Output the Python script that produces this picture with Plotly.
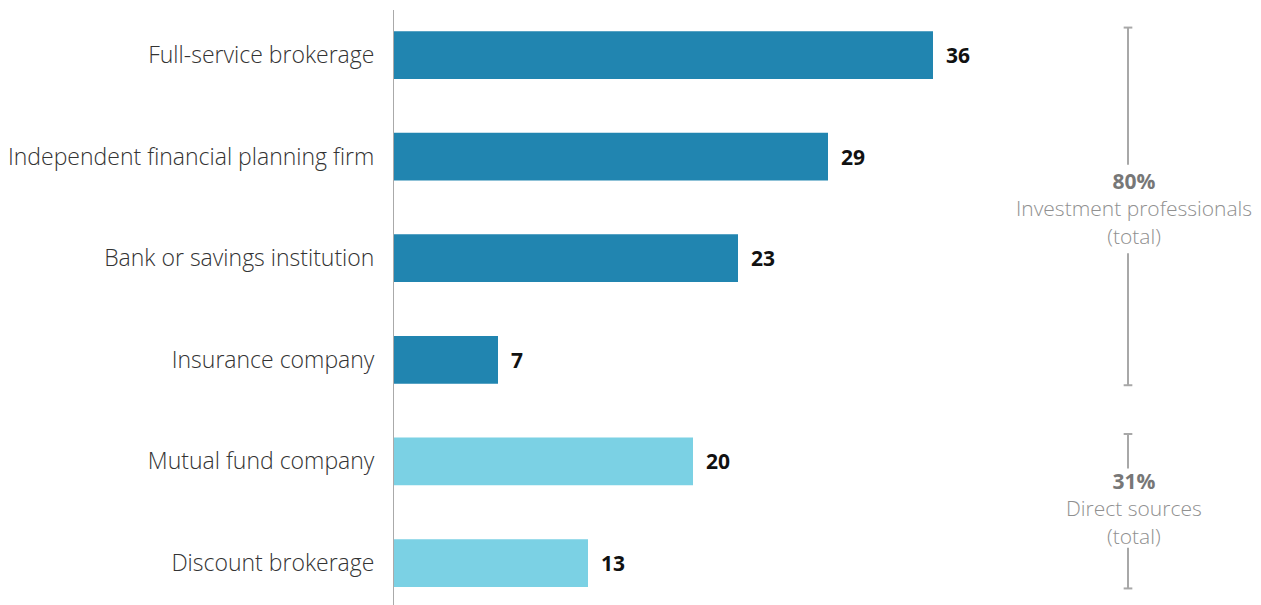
import plotly.graph_objects as go

categories = ["Full-service brokerage", "Independent financial planning firm",
              "Bank or savings institution", "Insurance company",
              "Mutual fund company", "Discount brokerage"]
values = [36, 29, 23, 7, 20, 13]
groups = ["pro", "pro", "pro", "pro", "direct", "direct"]
group_colors = {"pro": "#2185B0", "direct": "#7BD1E4"}

bracket_totals = ["80%", "31%"]
bracket_labels = ["Investment professionals<br>(total)", "Direct sources<br>(total)"]
bracket_spans = [(0, 3), (4, 5)]

W, H = 1261, 605
L, R, T, B = 393, 0, 10, 0
px_per_unit = 15.0
x_max = (W - L - R) / px_per_unit
FONT = "Open Sans"

fig = go.Figure()
fig.add_trace(go.Bar(
    y=categories, x=values, orientation="h",
    marker=dict(color=[group_colors[g] for g in groups], line=dict(width=0)),
    width=0.47, hoverinfo="skip",
))

for c, v in zip(categories, values):
    fig.add_annotation(x=v, y=c, text=f"<b>{v}</b>", showarrow=False,
                       xanchor="left", xshift=11,
                       font=dict(family=FONT, size=21, color="#111111"))

bx = (1128 - L) / (W - L - R)
cap = 0.005
line_col = "#A8A8A8"
for (a, b), tot, lab, gap in zip(bracket_spans, bracket_totals, bracket_labels,
                                 [(1.08, 1.95), (4.07, 4.85)]):
    y0 = a - 0.27
    y1 = b + 0.25
    fig.add_shape(type="line", xref="paper", yref="y", x0=bx, x1=bx, y0=y0, y1=gap[0],
                  line=dict(color=line_col, width=2))
    fig.add_shape(type="line", xref="paper", yref="y", x0=bx, x1=bx, y0=gap[1], y1=y1,
                  line=dict(color=line_col, width=2))
    for yy in (y0, y1):
        fig.add_shape(type="line", xref="paper", yref="y", x0=bx - cap, x1=bx + cap,
                      y0=yy, y1=yy, line=dict(color=line_col, width=2))
    mid = (gap[0] + gap[1]) / 2
    fig.add_annotation(xref="paper", yref="y", x=(1134 - L) / (W - L - R), y=mid,
                       text=f"<span style='font-size:21px;color:#777777'><b>{tot}</b></span><br>{lab}",
                       showarrow=False, xanchor="center", yanchor="middle",
                       align="center",
                       font=dict(family=FONT, size=21, color="#909090", weight=300))

fig.update_layout(
    width=W, height=H,
    margin=dict(l=L, r=R, t=T, b=B, pad=0),
    plot_bgcolor="white", paper_bgcolor="white",
    showlegend=False,
    xaxis=dict(range=[0, x_max], visible=False, fixedrange=True),
    yaxis=dict(type="category", categoryorder="array", categoryarray=categories,
               range=[5.413, -0.443], showgrid=False, zeroline=False,
               showline=False, ticks="outside", ticklen=13, tickcolor="rgba(0,0,0,0)",
               tickfont=dict(family=FONT, size=23, color="#333333", weight=300)),
)
fig.add_shape(type="line", xref="x", yref="paper", x0=0, x1=0, y0=0, y1=1,
              line=dict(color="#AAAAAA", width=2), layer="above")

fig.write_html("out.html")
